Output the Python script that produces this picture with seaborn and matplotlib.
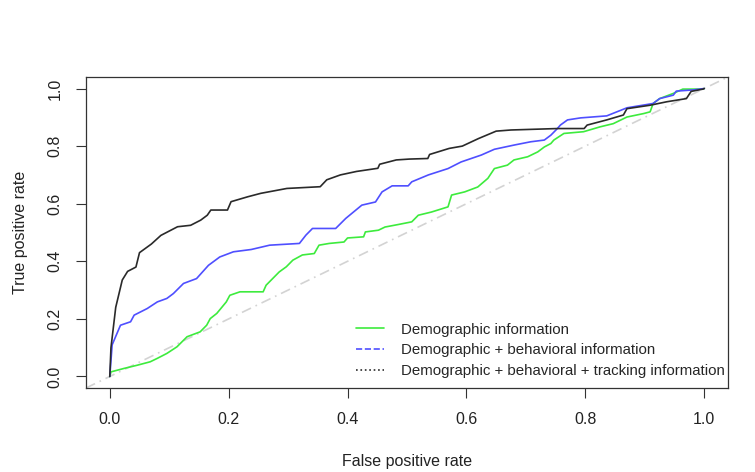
import numpy as np
import pandas as pd
import matplotlib
matplotlib.use("Agg")
import matplotlib.pyplot as plt
import seaborn as sns
from matplotlib.lines import Line2D

# --- data ---
demo_fpr = [0, 0.002, 0.024, 0.046, 0.068, 0.08, 0.096, 0.113, 0.13, 0.152, 0.163, 0.169, 0.18,
            0.196, 0.202, 0.219, 0.258, 0.263, 0.274, 0.285, 0.297, 0.308, 0.324, 0.344, 0.352,
            0.369, 0.394, 0.4, 0.427, 0.43, 0.452, 0.463, 0.486, 0.508, 0.519, 0.541, 0.569,
            0.575, 0.597, 0.619, 0.636, 0.647, 0.669, 0.68, 0.703, 0.72, 0.731, 0.742, 0.747,
            0.764, 0.797, 0.825, 0.847, 0.87, 0.898, 0.909, 0.914, 0.925, 0.948, 0.964, 0.998, 1.0]
demo_tpr = [0, 0.016, 0.028, 0.039, 0.051, 0.063, 0.08, 0.103, 0.138, 0.155, 0.178, 0.201, 0.219,
            0.259, 0.282, 0.294, 0.294, 0.317, 0.34, 0.363, 0.381, 0.404, 0.422, 0.427, 0.456,
            0.462, 0.467, 0.481, 0.485, 0.502, 0.508, 0.519, 0.528, 0.537, 0.56, 0.571, 0.589,
            0.63, 0.641, 0.658, 0.688, 0.722, 0.734, 0.752, 0.763, 0.78, 0.797, 0.809, 0.821,
            0.844, 0.85, 0.867, 0.878, 0.901, 0.913, 0.919, 0.948, 0.965, 0.983, 0.998, 0.998, 1.0]

beh_fpr = [0, 0.004, 0.018, 0.035, 0.041, 0.063, 0.08, 0.096, 0.107, 0.124, 0.146, 0.166, 0.185,
           0.208, 0.238, 0.269, 0.319, 0.33, 0.341, 0.38, 0.397, 0.424, 0.447, 0.458, 0.475,
           0.502, 0.508, 0.536, 0.569, 0.591, 0.625, 0.647, 0.681, 0.708, 0.731, 0.742, 0.753,
           0.758, 0.77, 0.792, 0.836, 0.853, 0.87, 0.914, 0.925, 0.948, 0.953, 0.981, 1.0]
beh_tpr = [0, 0.11, 0.178, 0.19, 0.213, 0.236, 0.259, 0.271, 0.288, 0.323, 0.34, 0.386, 0.415,
           0.433, 0.441, 0.456, 0.462, 0.491, 0.514, 0.514, 0.549, 0.595, 0.606, 0.641, 0.662,
           0.662, 0.676, 0.70, 0.722, 0.745, 0.769, 0.789, 0.804, 0.815, 0.821, 0.838, 0.861,
           0.873, 0.891, 0.898, 0.905, 0.919, 0.933, 0.948, 0.965, 0.977, 0.991, 0.995, 1.0]

track_fpr = [0, 0.002, 0.01, 0.021, 0.03, 0.044, 0.05, 0.07, 0.086, 0.114, 0.136, 0.153, 0.164,
             0.17, 0.198, 0.204, 0.232, 0.254, 0.298, 0.354, 0.365, 0.388, 0.415, 0.451, 0.454,
             0.482, 0.504, 0.535, 0.538, 0.571, 0.593, 0.62, 0.65, 0.675, 0.753, 0.798, 0.803,
             0.836, 0.864, 0.87, 0.909, 0.937, 0.97, 0.978, 0.998, 1.0]
track_tpr = [0, 0.10, 0.24, 0.335, 0.365, 0.38, 0.43, 0.46, 0.49, 0.52, 0.525, 0.543, 0.56,
             0.578, 0.578, 0.607, 0.624, 0.636, 0.653, 0.659, 0.683, 0.70, 0.712, 0.723, 0.737,
             0.752, 0.755, 0.757, 0.771, 0.792, 0.80, 0.826, 0.852, 0.856, 0.861, 0.861, 0.873,
             0.891, 0.908, 0.93, 0.942, 0.954, 0.965, 0.99, 0.998, 1.0]

labels = ["Demographic information",
          "Demographic + behavioral information",
          "Demographic + behavioral + tracking information"]
x_ticks = [0.0, 0.2, 0.4, 0.6, 0.8, 1.0]
y_ticks = [0.0, 0.2, 0.4, 0.6, 0.8, 1.0]

colors = ["#3DEB3D", "#4F4FFF", "#2A2A2A"]
legend_styles = ["-", "--", ":"]

df = pd.concat([
    pd.DataFrame({"fpr": demo_fpr, "tpr": demo_tpr, "model": labels[0]}),
    pd.DataFrame({"fpr": beh_fpr, "tpr": beh_tpr, "model": labels[1]}),
    pd.DataFrame({"fpr": track_fpr, "tpr": track_tpr, "model": labels[2]}),
], ignore_index=True)

sns.set_style("white")
plt.rcParams["font.family"] = ["Liberation Sans", "DejaVu Sans"]

fig = plt.figure(figsize=(7.55, 4.72), dpi=100)
ax = fig.add_axes([86 / 755, 1 - 388 / 472, (728 - 86) / 755, (388 - 77) / 472])

ax.axline((0, 0), (1, 1), color="#D3D3D3", linestyle=(0, (6, 3, 1, 3)), linewidth=1.2, zorder=1)

for lab, col in zip(labels, colors):
    sub = df[df["model"] == lab]
    sns.lineplot(data=sub, x="fpr", y="tpr", sort=False, estimator=None,
                 color=col, linewidth=1.2, ax=ax, legend=False, zorder=3)

ax.set_xlim(-0.04, 1.04)
ax.set_ylim(-0.04, 1.04)
ax.set_xticks(x_ticks)
ax.set_yticks(y_ticks)
ax.set_xticklabels([f"{v:.1f}" for v in x_ticks])
ax.set_yticklabels([f"{v:.1f}" for v in y_ticks], rotation=90, va="center")
ax.tick_params(axis="both", direction="out", length=7, width=0.8, color="#333333",
               labelsize=11.5, pad=10, labelcolor="#222222", bottom=True, left=True)
for s in ax.spines.values():
    s.set_color("#333333")
    s.set_linewidth(0.9)

ax.set_xlabel("False positive rate", fontsize=11.5, color="#222222", labelpad=20)
ax.set_ylabel("True positive rate", fontsize=11.5, color="#222222", labelpad=14)

handles = [Line2D([0], [0], color=c, linestyle=ls, linewidth=1.2) for c, ls in zip(colors, legend_styles)]
ax.legend(handles, labels, loc="lower right", frameon=False, fontsize=10.8,
          handlelength=1.9, handletextpad=1.1, labelspacing=0.45,
          borderaxespad=0.05, bbox_to_anchor=(1.005, 0.01))

fig.savefig("out.png", dpi=100, facecolor="white")
